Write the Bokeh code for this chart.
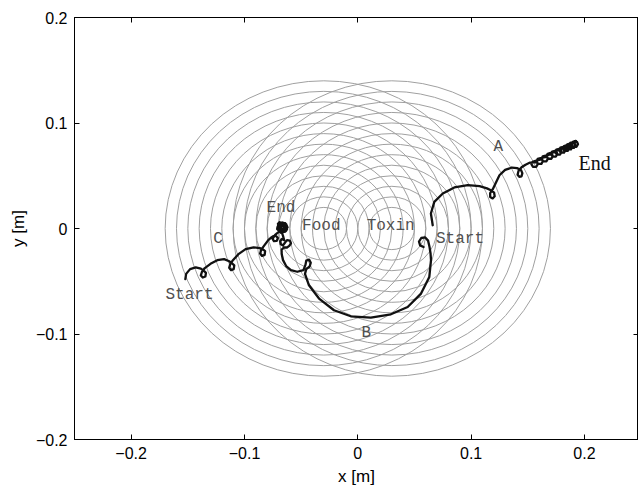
from bokeh.plotting import figure
from bokeh.models import Range1d, LinearAxis, FixedTicker
from bokeh.core.properties import value
from bokeh.embed import file_html
from bokeh.resources import INLINE

# ---------------- data ----------------
RADII = [0.02, 0.03, 0.04, 0.05, 0.06, 0.07, 0.08, 0.09, 0.10, 0.11, 0.12, 0.13, 0.14]
SOURCE_X = [-0.03, 0.03]      # Food, Toxin centres
SOURCE_Y = [0.0, 0.0]

A_X = [0.0661, 0.0645, 0.0675, 0.0750, 0.0852, 0.0971, 0.1074, 0.1140, 0.1170,
       0.1203, 0.1208, 0.1190, 0.1168, 0.1168, 0.1190, 0.1212, 0.1250, 0.1300, 0.1360,
       0.1405, 0.1440, 0.1452, 0.1445, 0.1425, 0.1410, 0.1418, 0.1445, 0.1480, 0.1520,
       0.1580, 0.1588, 0.1575, 0.1545, 0.1532, 0.1542, 0.1568,
       0.1625, 0.1633, 0.1620, 0.1590, 0.1577, 0.1587, 0.1613,
       0.1670, 0.1678, 0.1665, 0.1635, 0.1622, 0.1632, 0.1658,
       0.1713, 0.1721, 0.1708, 0.1678, 0.1665, 0.1675, 0.1701,
       0.1753, 0.1761, 0.1748, 0.1718, 0.1705, 0.1715, 0.1741,
       0.1790, 0.1798, 0.1785, 0.1755, 0.1742, 0.1752, 0.1778,
       0.1825, 0.1833, 0.1820, 0.1790, 0.1777, 0.1787, 0.1813,
       0.1857, 0.1865, 0.1852, 0.1822, 0.1809, 0.1819, 0.1845,
       0.1886, 0.1894, 0.1881, 0.1851, 0.1838, 0.1848, 0.1874,
       0.1912, 0.1920, 0.1907, 0.1877, 0.1864, 0.1874, 0.1900,
       0.1935, 0.1943, 0.1930, 0.1900, 0.1887, 0.1897, 0.1923]
A_Y = [0.0031, 0.0142, 0.0252, 0.0332, 0.0389, 0.0411, 0.0401, 0.0380, 0.0365,
       0.0340, 0.0305, 0.0285, 0.0298, 0.0335, 0.0370, 0.0420, 0.0505, 0.0555, 0.0578,
       0.0572, 0.0555, 0.0525, 0.0495, 0.0490, 0.0510, 0.0545, 0.0580, 0.0605, 0.0625,
       0.0630, 0.0610, 0.0585, 0.0585, 0.0610, 0.0632, 0.0640,
       0.0657, 0.0637, 0.0612, 0.0612, 0.0637, 0.0659, 0.0667,
       0.0682, 0.0662, 0.0637, 0.0637, 0.0662, 0.0684, 0.0692,
       0.0706, 0.0686, 0.0661, 0.0661, 0.0686, 0.0708, 0.0716,
       0.0727, 0.0707, 0.0682, 0.0682, 0.0707, 0.0729, 0.0737,
       0.0746, 0.0726, 0.0701, 0.0701, 0.0726, 0.0748, 0.0756,
       0.0764, 0.0744, 0.0719, 0.0719, 0.0744, 0.0766, 0.0774,
       0.0780, 0.0760, 0.0735, 0.0735, 0.0760, 0.0782, 0.0790,
       0.0795, 0.0775, 0.0750, 0.0750, 0.0775, 0.0797, 0.0805,
       0.0809, 0.0789, 0.0764, 0.0764, 0.0789, 0.0811, 0.0819,
       0.0820, 0.0800, 0.0775, 0.0775, 0.0800, 0.0822, 0.0830]

B_X = [0.0580, 0.0550, 0.0540, 0.0560, 0.0595, 0.0620, 0.0632, 0.0642, 0.0646, 0.0631,
       0.0558, 0.0440, 0.0292, 0.0115, -0.0062, -0.0210, -0.0342, -0.0431, -0.0466,
       -0.0455, -0.0425, -0.0415, -0.0430, -0.0455, -0.0462, -0.0480,
       -0.0534, -0.0590, -0.0630, -0.0660, -0.0672, -0.0672,
       -0.0650, -0.0625, -0.0605, -0.0590, -0.0600, -0.0625, -0.0640, -0.0660, -0.0680,
       -0.0685, -0.0670, -0.0650, -0.0660, -0.0670,
       -0.0620, -0.0633, -0.0665, -0.0697, -0.0710, -0.0697, -0.0665, -0.0633,
       -0.0635, -0.0648, -0.0675, -0.0693, -0.0692, -0.0670, -0.0645,
       -0.0652, -0.0662, -0.0678, -0.0676, -0.0662,
       -0.0625, -0.0640, -0.0690, -0.0712, -0.0680, -0.0640]
B_Y = [-0.0175, -0.0160, -0.0125, -0.0090, -0.0085, -0.0115, -0.0170, -0.0237, -0.0300, -0.0459,
       -0.0617, -0.0744, -0.0813, -0.0845, -0.0832, -0.0775, -0.0664, -0.0538, -0.0430,
       -0.0385, -0.0360, -0.0325, -0.0295, -0.0305, -0.0345, -0.0395,
       -0.0410, -0.0395, -0.0360, -0.0300, -0.0240, -0.0200,
       -0.0180, -0.0180, -0.0165, -0.0140, -0.0115, -0.0110, -0.0130, -0.0160, -0.0150,
       -0.0120, -0.0100, -0.0110, -0.0070, -0.0040,
       0.0010, 0.0042, 0.0056, 0.0042, 0.0010, -0.0022, -0.0035, -0.0022,
       0.0015, 0.0038, 0.0040, 0.0020, -0.0008, -0.0022, -0.0012,
       0.0012, 0.0026, 0.0018, -0.0002, -0.0004,
       -0.0010, 0.0050, 0.0052, -0.0005, -0.0040, -0.0030]

C_X = [-0.1522, -0.1515, -0.1480, -0.1430, -0.1385,
       -0.1360, -0.1340, -0.1345, -0.1368, -0.1385, -0.1375, -0.1350,
       -0.1300, -0.1240, -0.1180, -0.1135,
       -0.1110, -0.1090, -0.1095, -0.1118, -0.1135, -0.1125, -0.1100,
       -0.1050, -0.0990, -0.0920, -0.0865,
       -0.0840, -0.0818, -0.0822, -0.0845, -0.0862, -0.0852, -0.0828,
       -0.0790, -0.0760,
       -0.0750, -0.0725, -0.0705, -0.0715, -0.0740, -0.0752, -0.0730, -0.0700,
       -0.0672, -0.0690, -0.0705, -0.0690, -0.0660, -0.0645, -0.0660]
C_Y = [-0.0480, -0.0430, -0.0385, -0.0368, -0.0380,
       -0.0400, -0.0420, -0.0455, -0.0465, -0.0445, -0.0410, -0.0375,
       -0.0335, -0.0300, -0.0290, -0.0310,
       -0.0330, -0.0350, -0.0385, -0.0395, -0.0372, -0.0335, -0.0298,
       -0.0240, -0.0195, -0.0178, -0.0185,
       -0.0195, -0.0215, -0.0250, -0.0260, -0.0237, -0.0200, -0.0165,
       -0.0110, -0.0082,
       -0.0075, -0.0068, -0.0090, -0.0118, -0.0120, -0.0098, -0.0060, -0.0035,
       -0.0010, 0.0020, 0.0045, 0.0060, 0.0045, 0.0010, -0.0020]

GRAY_LABELS = ["A", "Start", "Toxin", "Food", "End", "C", "Start", "B"]
GRAY_LX = [0.124, 0.0902, 0.029, -0.0322, -0.0678, -0.1233, -0.1485, 0.0074]
GRAY_LY = [0.0774, -0.0104, 0.0022, 0.0022, 0.019, -0.0104, -0.0633, -0.099]
END_LABEL = ["End"]
END_LX = [0.209]
END_LY = [0.0617]

XTICKS = [-0.2, -0.1, 0.0, 0.1, 0.2]
YTICKS = [-0.2, -0.1, 0.0, 0.1, 0.2]
TICK_TEXT = {-0.2: "\u22120.2", -0.1: "\u22120.1", 0.0: "0", 0.1: "0.1", 0.2: "0.2"}

# ---------------- figure ----------------
p = figure(width=638, height=488, output_backend="svg", toolbar_location=None,
           x_range=Range1d(-0.25, 0.2477), y_range=Range1d(-0.2, 0.2),
           min_border_left=74, min_border_right=0, min_border_top=17, min_border_bottom=49)
p.background_fill_color = "white"
p.border_fill_color = "white"
p.grid.visible = False
p.outline_line_color = "black"
p.outline_line_width = 1

# concentric circles (data-unit ellipses)
cx, cy, dia = [], [], []
for sx, sy in zip(SOURCE_X, SOURCE_Y):
    for r in RADII:
        cx.append(sx)
        cy.append(sy)
        dia.append(2 * r)
p.ellipse(x=cx, y=cy, width=dia, height=dia, fill_alpha=0,
          line_color="#a0a0a0", line_width=1)

# trajectories
for xs, ys in ((A_X, A_Y), (B_X, B_Y), (C_X, C_Y)):
    p.line(xs, ys, line_color="#111111", line_width=2.3, line_join="round", line_cap="round")

# labels
p.text(x=GRAY_LX, y=GRAY_LY, text=GRAY_LABELS, text_font=value("Liberation Mono"),
       text_font_size="16px", text_color="#505050", text_align="center", text_baseline="middle")
p.text(x=END_LX, y=END_LY, text=END_LABEL, text_font=value("Liberation Serif"),
       text_font_size="20px", text_color="#111111", text_align="center", text_baseline="middle")

# axes
def style_axis(ax, ticks, show_labels=True):
    ax.ticker = FixedTicker(ticks=ticks)
    ax.major_tick_in = 5
    ax.major_tick_out = 0
    ax.minor_tick_in = 0
    ax.minor_tick_out = 0
    ax.axis_line_color = "black"
    ax.major_tick_line_color = "black"
    if show_labels:
        ax.major_label_overrides = TICK_TEXT
        ax.major_label_text_font = "Liberation Sans"
        ax.major_label_text_font_size = "16px"
        ax.major_label_text_color = "black"
        ax.major_label_standoff = 7
    else:
        ax.major_label_overrides = {t: "" for t in ticks}
        ax.major_label_standoff = 0

style_axis(p.xaxis[0], XTICKS)
style_axis(p.yaxis[0], YTICKS)
p.xaxis.axis_label = "x [m]"
p.yaxis.axis_label = "y [m]"
for ax in (p.xaxis[0], p.yaxis[0]):
    ax.axis_label_text_font = "Liberation Sans"
    ax.axis_label_text_font_size = "17px"
    ax.axis_label_text_font_style = "normal"
    ax.axis_label_text_color = "black"
    ax.axis_label_standoff = 5

top = LinearAxis()
style_axis(top, XTICKS, show_labels=False)
p.add_layout(top, "above")
right = LinearAxis()
style_axis(right, YTICKS, show_labels=False)
p.add_layout(right, "right")

open("out.html", "w").write(file_html(p, INLINE))
